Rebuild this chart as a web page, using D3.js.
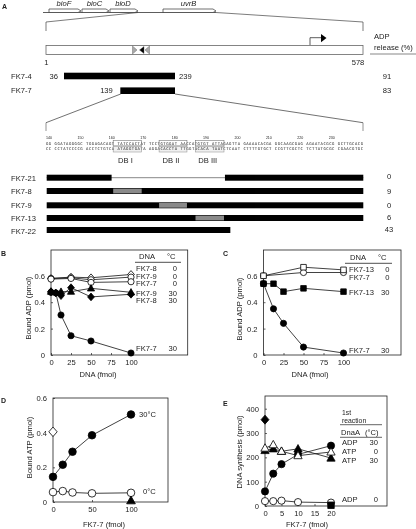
<!DOCTYPE html>
<html><head><meta charset="utf-8">
<style>html,body{margin:0;padding:0;background:#fff}svg{display:block;will-change:transform;opacity:.999}text{font-family:"Liberation Sans",Arial,sans-serif;fill:#222}</style>
<script src="https://cdn.jsdelivr.net/npm/d3@7"></script></head><body>
<svg id="c" width="416" height="529"></svg>
<script>
// ---- Panel A data
const mapRange=[1,578];
const genes=[["bioF",49,81],["bioC",82,109],["bioD",110,138],["uvrB",163,216]];
const fragments=[["FK7-4",36,239,"91"],["FK7-7",139,239,"83"]];
const seqTicks=[140,150,160,170,180,190,200,210,220,230];
const seqTop="GG GGATAGGGGC TGGAGACAGT TATCCACTAT TCCTGTGGAT AACCATGTGT ATTAGAGTTA GAAAACACGA GGCAAGCGAG AGAATACGCG GCTTGCACG";
const seqBottom="CC CCTATCCCCG ACCTCTGTCA ATAGGTGATA AGGACACCTA TTGGTACACA TAATCTCAAT CTTTTGTGCT CCGTTCGCTC TCTTATGCGC CGAACGTGC";
const dbBoxes=[["DB I",160,169],["DB II",174.5,183.3],["DB III",186,195]];
const mutants=[["FK7-21","0",[[139,159.5],[195.3,239]],[],true],["FK7-8","9",[[139,239]],[[160,169]]],["FK7-9","0",[[139,239]],[[174.5,183.3]]],["FK7-13","6",[[139,239]],[[186,195]]],["FK7-22","43",[[139,197]],[]]];
// ---- Panel B data
const bSeries=[
 {m:"diamondO",x:[0,25,50,100],y:[.58,.59,.585,.61]},
 {m:"circleO",x:[0,25,50,100],y:[.58,.585,.57,.59]},
 {m:"circleO",x:[0,25,50,100],y:[.575,.58,.55,.555]},
 {m:"triangleF",x:[0,12.5,25,50,100],y:[.48,.48,.48,.505,.475]},
 {m:"diamondF",x:[0,6,12.5,25,50,100],y:[.48,.47,.45,.51,.44,.46]},
 {m:"circleF",x:[0,6,12.5,25,50,100],y:[.475,.47,.303,.146,.106,.015]}];
const bLegend=[["FK7-8","0",270.5],["FK7-9","0",278.5],["FK7-7","0",286],["FK7-9","30",295.5],["FK7-8","30",303],["FK7-7","30",350.5]];
// ---- Panel C data
const cSeries=[
 {m:"circleO",x:[0,50,100],y:[.6,.625,.625]},
 {m:"squareO",x:[0,50,100],y:[.6,.665,.645]},
 {m:"squareF",x:[0,12.5,25,50,100],y:[.54,.54,.48,.505,.48]},
 {m:"circleF",x:[0,12.5,25,50,100],y:[.54,.35,.24,.06,.015]}];
const cLegend=[["FK7-13","0",271.7],["FK7-7","0",280.4],["FK7-13","30",295],["FK7-7","30",352.7]];
// ---- Panel D data
const dSeries=[
 {m:"circleF",x:[0,12.5,25,50,100],y:[.145,.215,.29,.385,.505]},
 {m:"circleO",x:[0,12.5,25,50,100],y:[.057,.063,.055,.05,.053]},
 {m:"diamondO",x:[0],y:[.405]},
 {m:"triangleF",x:[100],y:[.008]}];
// ---- Panel E data
const eSeries=[
 {m:"circleO",x:[0,2.5,5,10,20],y:[20,20,22,16,14]},
 {m:"triangleF",x:[0,2.5,5,10,20],y:[228,235,225,235,197]},
 {m:"circleF",x:[0,2.5,5,10,20],y:[60,133,172,212,248]},
 {m:"triangleO",x:[0,2.5,5,10,20],y:[238,252,225,207,222]},
 {m:"diamondF",x:[0],y:[355]},
 {m:"squareF",x:[20],y:[3]}];
const eLegend=[["ADP","30",445.4],["ATP","0",453.7],["ATP","30",462.7],["ADP","0",501.7]];

const svg=d3.select("#c");
const INK="#1a1a1a",FS=7.6;
function T(x,y,s,o={}){return svg.append("text").attr("x",x).attr("y",y).attr("font-size",o.fs||FS)
 .attr("text-anchor",o.a||"start").attr("font-weight",o.w||null).attr("font-style",o.i?"italic":null)
 .attr("transform",o.r?`rotate(-90 ${x} ${y})`:null).text(s);}
function L(x1,y1,x2,y2,c=INK,w=.8){svg.append("line").attr("x1",x1).attr("y1",y1).attr("x2",x2).attr("y2",y2).attr("stroke",c).attr("stroke-width",w);}
const poly=d3.line();

// ---- Panel A
T(2,9,"A",{w:"bold",fs:7});
L(43,12.5,216,12.5,"#333",.8);
genes.forEach(([n,a,b])=>{
 svg.append("path").attr("d",poly([[a,9],[b-3,9],[b,11],[b-3,12.5],[a,12.5]])+"Z").attr("fill","#fff").attr("stroke","#333").attr("stroke-width",.7);
 T((a+b)/2-1,6,n,{a:"middle",i:true});
});
const mx=d3.scaleLinear().domain(mapRange).range([46,363]);
svg.append("path").attr("d",poly([[46,31],[46,22],[138,12.5]])).attr("fill","none").attr("stroke","#444").attr("stroke-width",.7);
svg.append("path").attr("d",poly([[216,12.5],[363,22],[363,31]])).attr("fill","none").attr("stroke","#444").attr("stroke-width",.7);
svg.append("rect").attr("x",mx(1)).attr("y",45.5).attr("width",mx(578)-mx(1)).attr("height",9).attr("fill","#fff").attr("stroke","#666").attr("stroke-width",.8);
const tri=(pts,f)=>svg.append("path").attr("d",poly(pts)+"Z").attr("fill",f).attr("stroke","#555").attr("stroke-width",.4);
tri([[132.5,46],[137,50],[132.5,54]],"#aaa");
tri([[144,46.5],[139.5,50],[144,53.5]],"#000");
tri([[149.5,46],[145,50],[149.5,54]],"#aaa");
svg.append("path").attr("d",poly([[310,45],[310,37.7],[321.5,37.7]])).attr("fill","none").attr("stroke","#333").attr("stroke-width",.8);
svg.append("path").attr("d",poly([[321,34],[326.5,38],[321,42.3]])+"Z").attr("fill","#000");
T(46.3,64.7,"1",{a:"middle"});T(358,64.7,"578",{a:"middle"});
T(374,39.4,"ADP");T(374,50,"release (%)");L(370,54,416,54,"#555",.7);
const fx=d3.scaleLinear().domain([36,239]).range([64,175]);
const fragY=[76,90.7];
fragments.forEach(([n,a,b,v],i)=>{
 const y=fragY[i];
 svg.append("rect").attr("x",fx(a)).attr("y",y-3.3).attr("width",fx(b)-fx(a)).attr("height",6.6).attr("fill","#000");
 T(11,y+2.7,n);
 T(fx(a)-(i?7.5:6),y+2.7,a,{a:"end"});
 if(i==0)T(fx(b)+4,y+2.7,b);
 T(387,y+2.7,v,{a:"middle"});
});
L(120.7,94,46,122.7,"#333",.7);L(175,94,363,122.7,"#333",.7);
L(46,122.7,46,131,"#666",.7);L(363,122.7,363,131,"#666",.7);
const sx=d3.scaleLinear().domain([139,239]).range([46.7,363.3]);
const tx=d3.scaleLinear().domain([140,230]).range([49,331.7]);
seqTicks.forEach(t=>T(tx(t),139.3,t,{a:"middle",fs:3.6}));
[[seqTop,144.7],[seqBottom,150.4]].forEach(([s,y])=>svg.append("text").attr("x",46).attr("y",y).attr("font-size",3.9).style("font-family","'DejaVu Sans Mono',monospace").attr("textLength",317).text(s));
dbBoxes.forEach(([n,a,b])=>{
 svg.append("rect").attr("x",sx(a)).attr("y",140.5).attr("width",sx(b)-sx(a)).attr("height",5.5).attr("fill","none").attr("stroke","#777").attr("stroke-width",.6);
 svg.append("rect").attr("x",sx(a)).attr("y",146).attr("width",sx(b)-sx(a)).attr("height",6).attr("fill","#000").attr("fill-opacity",.06).attr("stroke","#999").attr("stroke-width",.6);
 T((sx(a)+sx(b))/2-2,162.7,n,{a:"middle"});
});
const mutY=[177.7,191,205.3,218,230];
const mutLabelY=[181,193.7,207.7,221.4,234.4];
const mutValueY=[178.7,193.7,208,220,231.7];
mutants.forEach(([n,v,bars,gray,thin],i)=>{
 const y=mutY[i];
 T(11,mutLabelY[i],n);
 T(389,mutValueY[i],v,{a:"middle"});
 if(thin)L(sx(139),y,sx(239),y,"#555",.7);
 bars.forEach(([a,b])=>svg.append("rect").attr("x",sx(a)).attr("y",y-3).attr("width",sx(b)-sx(a)).attr("height",6).attr("fill","#000"));
 gray.forEach(([a,b])=>svg.append("rect").attr("x",sx(a)).attr("y",y-2.4).attr("width",sx(b)-sx(a)).attr("height",4.8).attr("fill","#8a8a8a"));
});

// ---- chart helpers
function marker(g,kind,x,y,r=3.3){
 const f=kind.endsWith("F")?"#000":"#fff",k=kind.slice(0,-1);
 let s;
 if(k=="circle")s=g.append("circle").attr("cx",x).attr("cy",y).attr("r",r);
 else{const pts=k=="diamond"?[[0,-r*1.25],[r*1.1,0],[0,r*1.25],[-r*1.1,0]]:k=="square"?[[-r*.9,-r*.9],[r*.9,-r*.9],[r*.9,r*.9],[-r*.9,r*.9]]:[[0,-r*1.2],[r*1.15,r*.85],[-r*1.15,r*.85]];
  s=g.append("path").attr("d",poly(pts.map(p=>[x+p[0],y+p[1]]))+"Z");}
 s.attr("fill",f).attr("stroke","#000").attr("stroke-width",.8);
}
function panel(o){
 const x=d3.scaleLinear().domain(o.xd).range(o.xr),y=d3.scaleLinear().domain(o.yd).range(o.yr);
 const g=svg.append("g");
 g.append("rect").attr("x",o.box[0]).attr("y",o.box[1]).attr("width",o.box[2]-o.box[0]).attr("height",o.box[3]-o.box[1]).attr("fill","none").attr("stroke","#222").attr("stroke-width",.8);
 const ax=g.append("g").attr("transform",`translate(0,${o.box[3]})`).call(d3.axisBottom(x).tickValues(o.xt).tickSize(-2).tickPadding(5).tickFormat(d=>d));
 const ay=g.append("g").attr("transform",`translate(${o.box[0]},0)`).call(d3.axisLeft(y).tickValues(o.yt).tickSize(-2).tickPadding(6).tickFormat(o.yf||(d=>d)));
 [ax,ay].forEach(a=>{a.select(".domain").remove();a.selectAll("line").attr("stroke","#222").attr("stroke-width",.7);a.selectAll("text").attr("font-size",FS).attr("font-family","Liberation Sans").attr("fill","#222");});
 o.series.forEach(s=>{
  const pts=s.x.map((v,i)=>[x(v),y(s.y[i])]);
  if(pts.length>1)g.append("path").attr("d",poly(pts)).attr("fill","none").attr("stroke","#111").attr("stroke-width",.8);
  pts.forEach(p=>marker(g,s.m,p[0],p[1],o.r||3.3));
 });
 T(o.yl[0],o.yl[1],o.yLabel,{a:"middle",r:true});
 T(o.xl[0],o.xl[1],o.xLabel,{a:"middle"});
 T(o.lab[0],o.lab[1],o.lab[2],{w:"bold",fs:7});
}
const f1=d=>d===0?"0":d3.format(".1f")(d);
panel({xd:[0,100],xr:[51,131],yd:[0,.6],yr:[355,275.8],box:[51,250,187.7,355],xt:[0,25,50,75,100],yt:[0,.2,.4,.6],yf:f1,series:bSeries,r:3.1,yLabel:"Bound ADP (pmol)",yl:[31,308],xLabel:"DNA (fmol)",xl:[98,376.7],lab:[1,256,"B"]});
panel({xd:[0,100],xr:[263.5,343.5],yd:[0,.6],yr:[355,275.8],box:[263.5,250,401,355],xt:[0,25,50,75,100],yt:[0,.2,.4,.6],yf:f1,series:cSeries,r:3.1,yLabel:"Bound ADP (pmol)",yl:[242,309],xLabel:"DNA (fmol)",xl:[310,376.7],lab:[223,256,"C"]});
panel({xd:[0,100],xr:[53,131],yd:[0,.6],yr:[502,398],box:[53,398,168,502],xt:[0,50,100],yt:[0,.2,.4,.6],yf:f1,series:dSeries,r:3.8,yLabel:"Bound ATP (pmol)",yl:[32,447.5],xLabel:"FK7-7 (fmol)",xl:[104,526.7],lab:[1,403,"D"]});
panel({xd:[0,20],xr:[265,331],yd:[0,400],yr:[506,408.7],box:[265,396,387,506],xt:[0,5,10,15,20],yt:[0,100,200,300,400],series:eSeries,r:3.6,yLabel:"DNA synthesis  (pmol)",yl:[242,452],xLabel:"FK7-7 (fmol)",xl:[307,526.7],lab:[223,406,"E"]});

// legends
T(139,258.7,"DNA");T(167,258.7,"°C");L(135,262.3,181,262.3,"#222",.8);
bLegend.forEach(([n,v,y])=>{T(136,y,n);T(177,y,v,{a:"end"});});
T(350,260.4,"DNA");T(378,260.4,"°C");L(345,263.3,392,263.3,"#222",.8);
cLegend.forEach(([n,v,y])=>{T(349,y,n);T(389.5,y,v,{a:"end"});});
T(342,415,"1st",{fs:6.8});T(342,423,"reaction",{fs:6.8});L(340,424.7,382,424.7,"#222",.7);
T(341,435,"DnaA");T(365,435,"(°C)");L(340,437.3,382,437.3,"#222",.7);
eLegend.forEach(([n,v,y])=>{T(342,y,n);T(378,y,v,{a:"end"});});
// D labels
T(139,417,"30°C");T(143,494,"0°C");
</script></body></html>
